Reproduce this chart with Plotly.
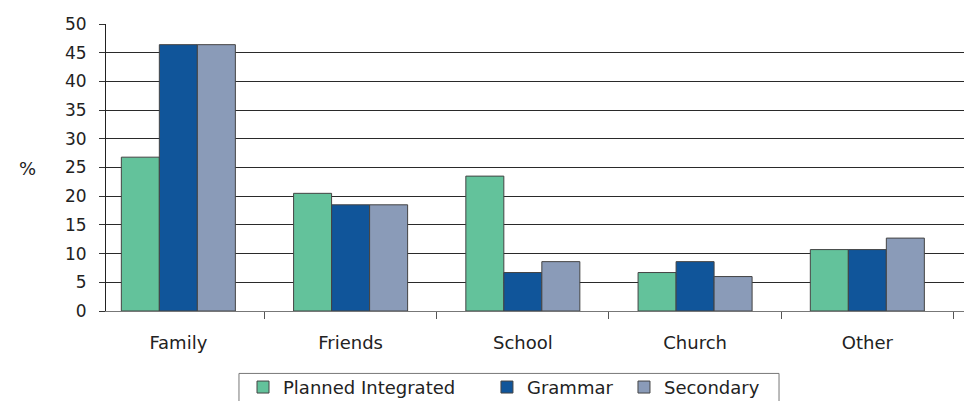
import plotly.graph_objects as go

categories = ["Family", "Friends", "School", "Church", "Other"]
planned_integrated = [26.8, 20.5, 23.5, 6.7, 10.7]
grammar = [46.4, 18.5, 6.7, 8.6, 10.7]
secondary = [46.4, 18.5, 8.6, 6.0, 12.7]
y_ticks = list(range(0, 55, 5))

FONT = "DejaVu Sans"
TXT = "#222222"

fig = go.Figure()
series = [
    ("Planned Integrated", planned_integrated, "#63C29B", "legend"),
    ("Grammar", grammar, "#10559A", "legend2"),
    ("Secondary", secondary, "#8A9BB8", "legend3"),
]
for name, vals, col, lg in series:
    fig.add_trace(go.Bar(
        x=categories, y=vals, name=name, showlegend=True,
        marker=dict(color=col, line=dict(color="#444444", width=1)),
        legend=lg,
    ))

leg_common = dict(orientation="h", yanchor="middle", xanchor="left",
                  bgcolor="rgba(0,0,0,0)", borderwidth=0,
                  font=dict(family=FONT, size=18, color=TXT))
fig.update_layout(
    width=964, height=393,
    margin=dict(l=98, r=7, t=16, b=90, autoexpand=False),
    paper_bgcolor="white", plot_bgcolor="white",
    showlegend=True,
    barmode="group", bargap=0.338, bargroupgap=0,
    font=dict(family=FONT, size=17, color=TXT),
    legend=dict(x=0.1595, y=-0.266, **leg_common),
    legend2=dict(x=0.4435, y=-0.266, **leg_common),
    legend3=dict(x=0.603, y=-0.266, **leg_common),
    xaxis=dict(
        range=[-0.42, 4.567], tickson="boundaries", ticks="outside",
        ticklen=7, tickcolor="#555555", showline=True, linecolor="#777777",
        linewidth=1, showgrid=False, ticklabelstandoff=15,
        tickfont=dict(family=FONT, size=18, color=TXT),
    ),
    yaxis=dict(
        range=[0, 50], tickvals=y_ticks, ticks="outside", ticklen=6,
        tickcolor="#333333", showline=True, mirror=True, linecolor="#222222",
        linewidth=1, showgrid=True, gridcolor="#2a2a2a", gridwidth=1,
        zeroline=False, ticklabelstandoff=9,
        tickfont=dict(family=FONT, size=17, color=TXT),
    ),
    shapes=[dict(type="rect", xref="paper", yref="paper",
                 x0=0.1548, x1=0.7835, y0=-0.2175, y1=-0.40,
                 line=dict(color="#777777", width=1))],
    annotations=[dict(text="%", xref="paper", yref="paper", x=-0.0914, y=0.495,
                      xanchor="center", yanchor="middle",
                      showarrow=False, font=dict(family=FONT, size=18, color=TXT))],
)

fig.write_html("out.html")
